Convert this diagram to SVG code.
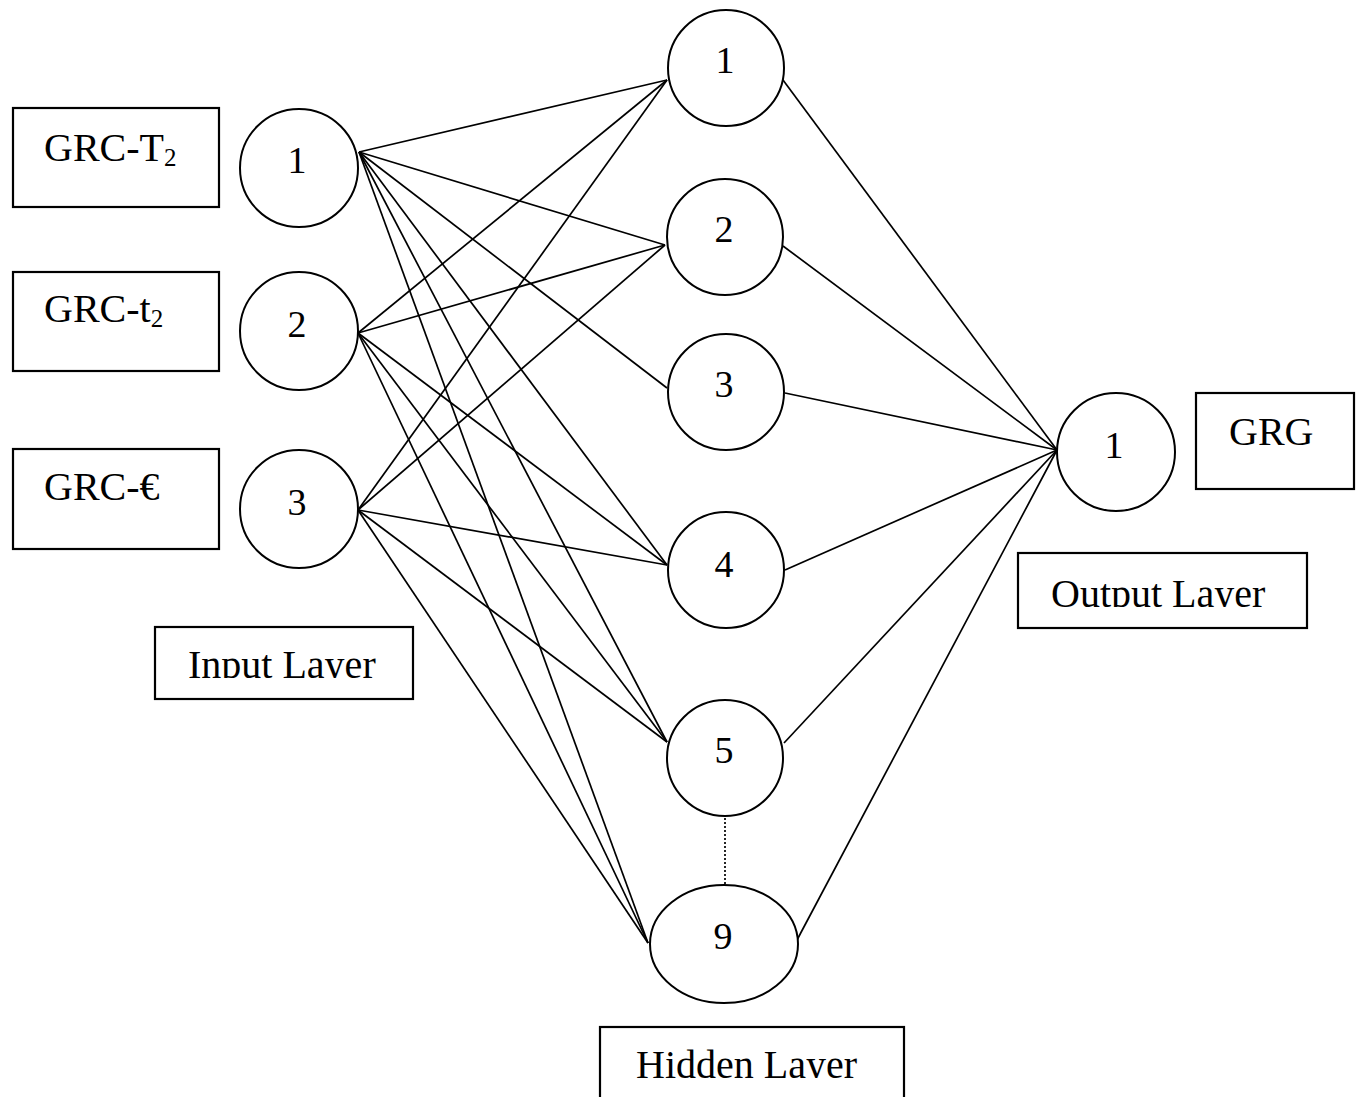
<svg xmlns="http://www.w3.org/2000/svg" width="1362" height="1097" viewBox="0 0 1362 1097">
<defs>
<style>
.node{fill:#fff;stroke:#000;stroke-width:2}
.box{fill:#fff;stroke:#000;stroke-width:2.2}
.lbl{font-family:"Liberation Serif","Times New Roman",serif;font-size:40px;fill:#000}
.num{font-family:"Liberation Serif","Times New Roman",serif;font-size:38px;fill:#000;text-anchor:middle}
.sub{font-size:25px}
.conn line{stroke:#000;stroke-width:1.7}
.dot{stroke:#000;stroke-width:2;stroke-dasharray:2 2}
</style>
<clipPath id="cIn"><rect x="150" y="620" width="270" height="58"/></clipPath>
<clipPath id="cOut"><rect x="1010" y="550" width="300" height="57"/></clipPath>
<clipPath id="cHid"><rect x="595" y="1020" width="315" height="58"/></clipPath>
</defs>
<rect width="1362" height="1097" fill="#fff"/>
<g id="connectors" class="conn">
<line x1="359" y1="152" x2="667" y2="80"/>
<line x1="359" y1="152" x2="665" y2="245"/>
<line x1="359" y1="152" x2="667" y2="388"/>
<line x1="359" y1="152" x2="667" y2="565"/>
<line x1="359" y1="152" x2="667" y2="742"/>
<line x1="359" y1="152" x2="648" y2="943"/>
<line x1="358" y1="333" x2="667" y2="80"/>
<line x1="358" y1="333" x2="665" y2="245"/>
<line x1="358" y1="333" x2="667" y2="565"/>
<line x1="358" y1="333" x2="667" y2="742"/>
<line x1="358" y1="333" x2="648" y2="943"/>
<line x1="358" y1="510" x2="667" y2="80"/>
<line x1="358" y1="510" x2="665" y2="245"/>
<line x1="358" y1="510" x2="667" y2="565"/>
<line x1="358" y1="510" x2="667" y2="742"/>
<line x1="358" y1="510" x2="648" y2="943"/>
<line x1="783" y1="80" x2="1057" y2="450"/>
<line x1="783" y1="246" x2="1057" y2="450"/>
<line x1="785" y1="393" x2="1057" y2="450"/>
<line x1="785" y1="570" x2="1057" y2="450"/>
<line x1="784" y1="743" x2="1057" y2="450"/>
<line x1="797" y1="940" x2="1057" y2="450"/>
<line class="dot" x1="725" y1="818" x2="725" y2="885"/>
</g>
<g id="box-grc-T2"><rect class="box" x="13" y="108" width="206" height="99"/><text class="lbl" x="44" y="161">GRC-T<tspan class="sub" dy="5">2</tspan></text></g>
<g id="box-grc-t2"><rect class="box" x="13" y="272" width="206" height="99"/><text class="lbl" x="44" y="322">GRC-t<tspan class="sub" dy="5">2</tspan></text></g>
<g id="box-grc-e"><rect class="box" x="13" y="449" width="206" height="100"/><text class="lbl" x="44" y="500">GRC-€</text></g>
<g id="box-input-layer"><rect class="box" x="155" y="627" width="258" height="72"/><text class="lbl" x="188" y="678" clip-path="url(#cIn)">Input Layer</text></g>
<g id="in1"><circle class="node" cx="299" cy="168" r="59"/><text class="num" x="297" y="173">1</text></g>
<g id="in2"><circle class="node" cx="299" cy="331" r="59"/><text class="num" x="297" y="337">2</text></g>
<g id="in3"><circle class="node" cx="299" cy="509" r="59"/><text class="num" x="297" y="515">3</text></g>
<g id="h1"><circle class="node" cx="726" cy="68" r="58"/><text class="num" x="725" y="73">1</text></g>
<g id="h2"><circle class="node" cx="725" cy="237" r="58"/><text class="num" x="724" y="242">2</text></g>
<g id="h3"><circle class="node" cx="726" cy="392" r="58"/><text class="num" x="724" y="397">3</text></g>
<g id="h4"><circle class="node" cx="726" cy="570" r="58"/><text class="num" x="724" y="577">4</text></g>
<g id="h5"><circle class="node" cx="725" cy="758" r="58"/><text class="num" x="724" y="763">5</text></g>
<g id="h9"><ellipse class="node" cx="724" cy="944" rx="74" ry="59"/><text class="num" x="723" y="949">9</text></g>
<g id="box-hidden-layer"><rect class="box" x="600" y="1027" width="304" height="80"/><text class="lbl" x="636" y="1078" clip-path="url(#cHid)">Hidden Layer</text></g>
<g id="out1"><circle class="node" cx="1116" cy="452" r="59"/><text class="num" x="1114" y="458">1</text></g>
<g id="box-grg"><rect class="box" x="1196" y="393" width="158" height="96"/><text class="lbl" x="1229" y="445">GRG</text></g>
<g id="box-output-layer"><rect class="box" x="1018" y="553" width="289" height="75"/><text class="lbl" x="1051" y="607" clip-path="url(#cOut)">Output Layer</text></g>
</svg>
